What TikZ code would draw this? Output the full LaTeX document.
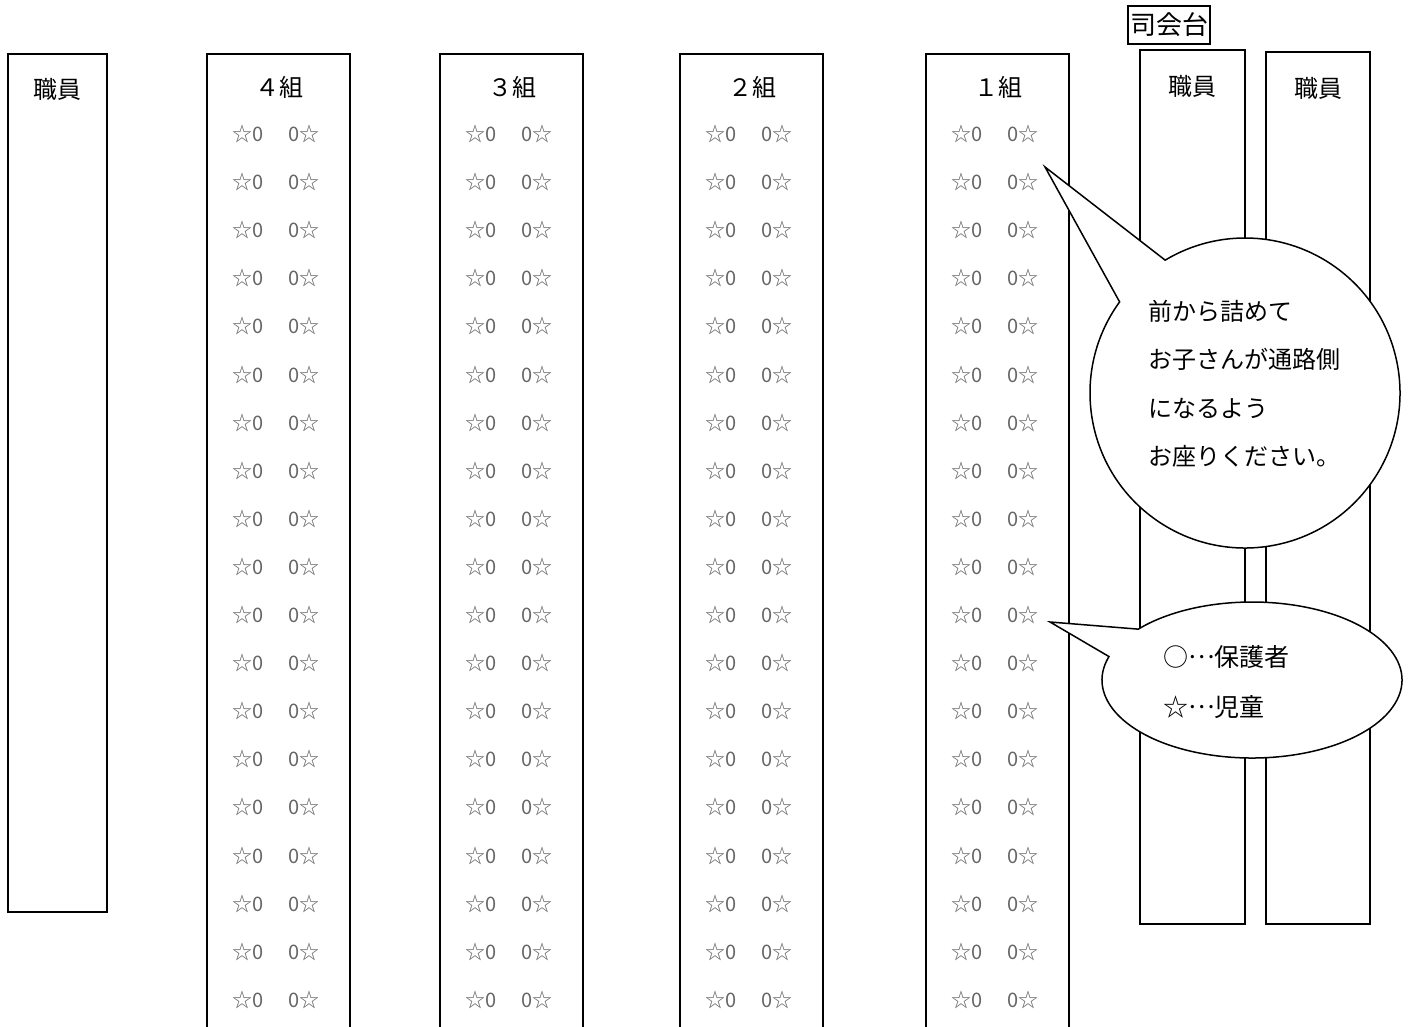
\documentclass[tikz,border=0pt]{standalone}
\usepackage{fontspec}
\setmainfont{Noto Sans CJK JP}
\usetikzlibrary{positioning,calc}

% centred ellipsis, as in the printed legend
\newcommand{\midellipsis}{\raisebox{0.32em}{…}}

\begin{document}
\begin{tikzpicture}
    [
        x=1pt, y=1pt,
        Row/.style={line width=2pt},
        Staff/.style={line width=2pt},
        Desk/.style={draw, line width=1.5pt, inner sep=2pt, minimum height=38pt, font=\fontsize{26}{30}\selectfont},
        Title/.style={font=\fontsize{24}{28}\selectfont, inner sep=0pt},
        Seat/.style={font=\fontsize{20}{22}\selectfont, text=black!60, inner sep=0pt},
        Bubble/.style={draw, line width=1.5pt, fill=white},
        Note/.style={font=\fontsize{24}{28}\selectfont, anchor=west, inner sep=0pt},
        Legend/.style={font=\fontsize{25}{30}\selectfont, anchor=west, inner sep=0pt}
    ]

    \useasboundingbox (0,0) rectangle (1410,-1027);

    % staff on the left
    \draw[Staff] (8,-54) rectangle (107,-912);
    \node[Title] (staff_left) at (57,-89) {職員};

    % the four classes, open at the bottom
    \foreach \l/\n/\k in {207/4/４, 440/3/３, 680/2/２, 926/1/１} {
        \draw[Row] (\l,-1027) -- (\l,-54) -- (\l+143,-54) -- (\l+143,-1027);
        \node[Title] (class\n) at (\l+72,-87) {\k 組};
        \foreach \r in {0,...,18} {
            \node[Seat] (seat\n-\r-a) at (\l+41,-134-48.1*\r) {☆0};
            \node[Seat] (seat\n-\r-b) at (\l+97,-134-48.1*\r) {0☆};
        }
    }

    % desk and staff on the right
    \node[Desk] (mc_desk) at (1169,-25) {司会台};
    \draw[Staff] (1140,-50) rectangle (1245,-924);
    \node[Title] (staff_mid) at (1192,-86) {職員};
    \draw[Staff] (1266,-52) rectangle (1370,-924);
    \node[Title] (staff_right) at (1318,-88) {職員};

    % speech bubbles
    \coordinate (note_c) at (1245,-393);
    \coordinate (note_tip) at (1045,-167);
    \draw[Bubble] ($(note_c)+(144:155pt)$) arc[start angle=144, end angle=481, radius=155pt] -- (note_tip) -- cycle;
    \foreach \t [count=\i] in {前から詰めて, お子さんが通路側, になるよう, お座りください。}
        \node[Note] (note\i) at (1148,-311-48.6*\i+48.6) {\t};

    \coordinate (legend_c) at (1252,-680);
    \coordinate (legend_tip) at (1050,-622);
    \draw[Bubble] ($(legend_c)+(162.5:150pt and 78pt)$) arc[start angle=162.5, end angle=499.3, x radius=150pt, y radius=78pt] -- (legend_tip) -- cycle;
    \node[Legend] (legend_parent) at (1163,-657) {○\midellipsis 保護者};
    \node[Legend] (legend_child) at (1163,-707) {☆\midellipsis 児童};
\end{tikzpicture}
\end{document}
